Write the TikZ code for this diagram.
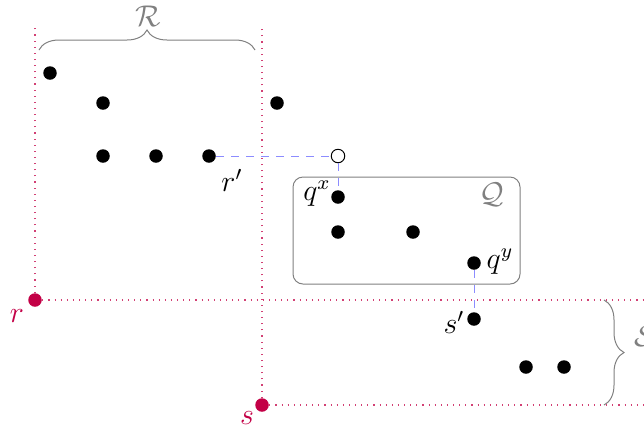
\documentclass[tikz,border=0pt]{standalone}
\usetikzlibrary{decorations.pathreplacing}

\definecolor{rouge}{RGB}{195,0,70}
\definecolor{bleu}{RGB}{140,140,255}

\tikzset{every picture/.style={line width=0.4pt}}
\tikzset{
  pt/.style={circle,fill=black,inner sep=0pt,minimum size=5.4pt},
  redpt/.style={circle,fill=rouge,inner sep=0pt,minimum size=5.4pt},
  openpt/.style={circle,draw=black,fill=white,inner sep=0pt,minimum size=5.4pt},
  guide/.style={rouge!75,dotted,line width=0.45pt},
  proj/.style={bleu,dashed},
  brc/.style={gray,decorate,decoration={brace,amplitude=8pt}},
  every node/.append style={font=\large},
}

\begin{document}
\begin{tikzpicture}[x=0.4pt,y=0.4pt,yscale=-1]
\path[use as bounding box] (0,0) rectangle (644,435); %set diagram size

%Shape: Box Q
\draw [gray,rounded corners=4pt] (293,177) rectangle (520,284) ;

% Points of R
\node [pt] (a1) at (50,73) {};
\node [pt] (a2) at (103,103) {};
\node [pt] (a3) at (103,156) {};
\node [pt] (a4) at (156,156) {};
\node [pt] (rp) at (209,156) {};
\node [pt] (a5) at (277,103) {};
% Points of Q
\node [openpt] (o) at (338,156) {};
\node [pt] (qx) at (338,197) {};
\node [pt] (b1) at (338,232) {};
\node [pt] (b2) at (413,232) {};
\node [pt] (qy) at (474,263) {};
% Points of S
\node [pt] (sp) at (474,319) {};
\node [pt] (c1) at (526,367) {};
\node [pt] (c2) at (564,367) {};
% Corners r and s
\node [redpt] (r) at (35,300) {};
\node [redpt] (s) at (262,405) {};

% Guide ends
\coordinate (rtop) at (35,28);
\coordinate (rend) at (644,300);
\coordinate (stop) at (262,28);
\coordinate (send) at (644,405);

%Dotted Lines
\draw [guide] (r) -- (rtop) ;
\draw [guide] (r) -- (rend) ;
\draw [guide] (s) -- (stop) ;
\draw [guide] (s) -- (send) ;
%Dashed Lines
\draw [proj] (rp) -- (o) ;
\draw [proj] (o) -- (qx) ;
\draw [proj] (qy) -- (sp) ;

%Braces
\draw [brc] (39,50) -- (255,50) ;
\draw [brc] (604,300) -- (604,405) ;

% Text Node
\node (lR) at (148,16) [gray] {$\mathcal{R}$};
% Text Node
\node (lQ) at (492,195) [gray] {$\mathcal{Q}$};
% Text Node
\node (lS) at (626,336) [gray,anchor=west] {$\mathcal{S}$};
% Text Node
\node (lrp) at (232,180) {$r'$};
% Text Node
\node (lqx) at (317,194) {$q^x$};
% Text Node
\node (lqy) at (500,262) {$q^y$};
% Text Node
\node (lsp) at (454,322) {$s'$};
% Text Node
\node (lr) at (17,316) [rouge] {$r$};
% Text Node
\node (ls) at (247,418) [rouge] {$s$};

\end{tikzpicture}
\end{document}
